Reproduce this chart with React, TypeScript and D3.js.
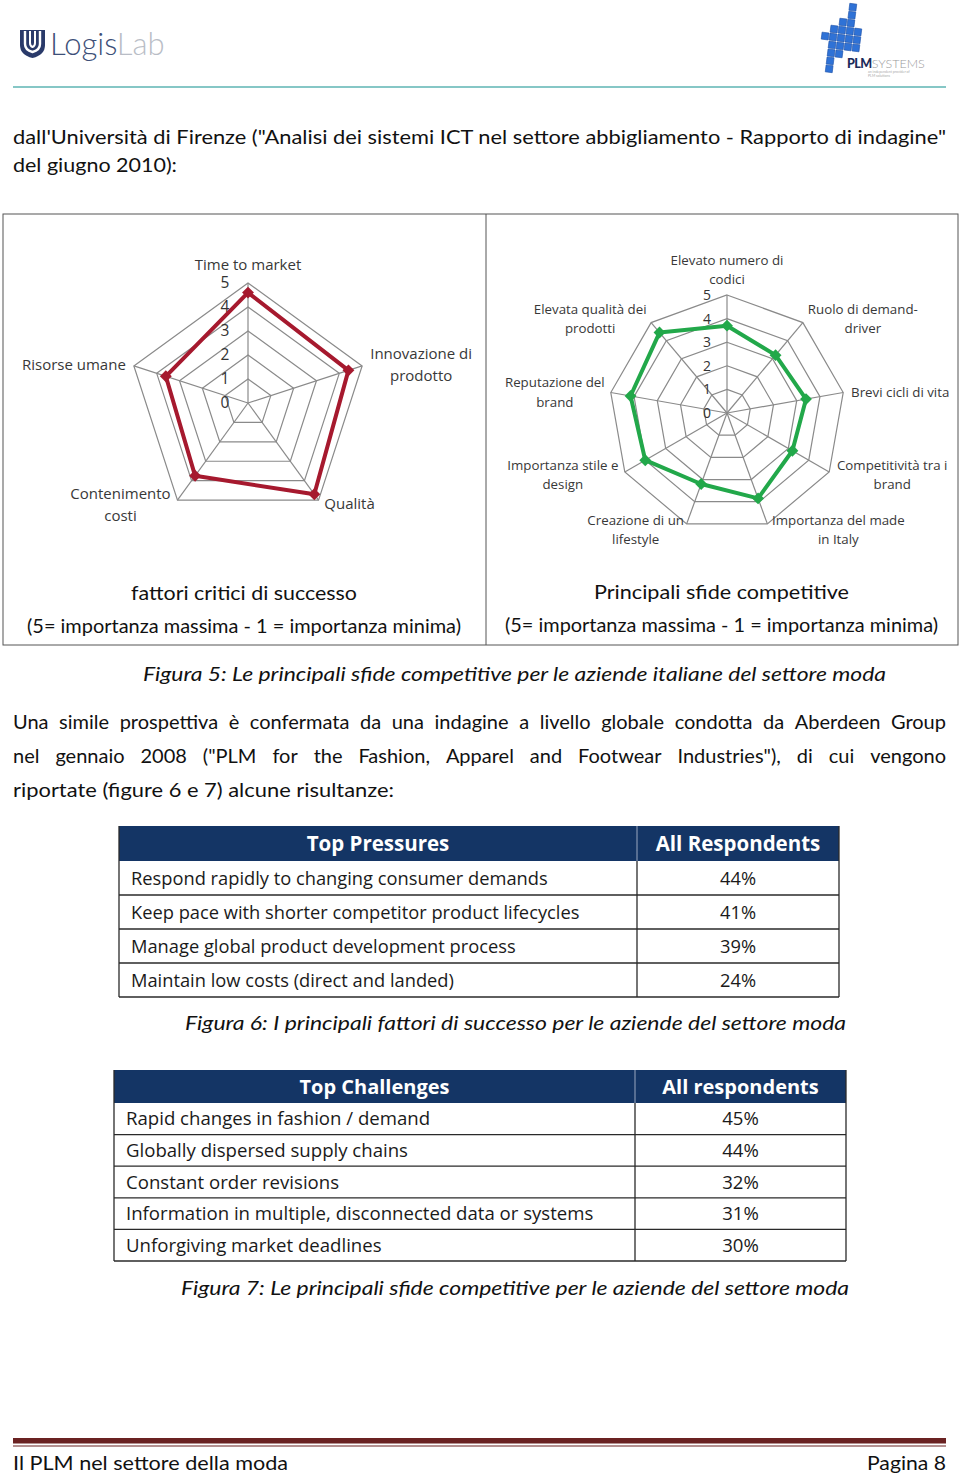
import React from 'react';
import * as d3 from 'd3';

// ---------- DATA ----------
const leftAxes = ['Time to market', 'Innovazione di\nprodotto', 'Qualità', 'Contenimento\ncosti', 'Risorse umane'];
const leftValues = [4.6, 4.4, 4.7, 3.75, 3.6];
const rightAxes = [
  'Elevato numero di\ncodici',
  'Ruolo di demand-\ndriver',
  'Brevi cicli di vita',
  'Competitività tra i\nbrand',
  'Importanza del made\nin Italy',
  'Creazione di un\nlifestyle',
  'Importanza stile e\ndesign',
  'Reputazione del\nbrand',
  'Elevata qualità dei\nprodotti',
];
const rightValues = [3.7, 3.2, 3.4, 3.2, 3.85, 3.2, 4.0, 4.15, 4.45];
const radarTicks = [0, 1, 2, 3, 4, 5];

const pressureItems = [
  'Respond rapidly to changing consumer demands',
  'Keep pace with shorter competitor product lifecycles',
  'Manage global product development process',
  'Maintain low costs (direct and landed)',
];
const pressureValues = [44, 41, 39, 24];
const challengeItems = [
  'Rapid changes in fashion / demand',
  'Globally dispersed supply chains',
  'Constant order revisions',
  'Information in multiple, disconnected data or systems',
  'Unforgiving market deadlines',
];
const challengeValues = [45, 44, 32, 31, 30];

// ---------- LAYOUT ----------
const W = 960;
const H = 1477;
const FONT = 'Lato, "Open Sans", sans-serif';
const LFONT = '"Open Sans", Lato, sans-serif';
const NAVY = '#143565';

const leftLabelOffsets: [number, number][] = [[0, -18], [59, -1], [31, 4], [-57, 5], [-60, -1]];
const rightLabelOffsets: [number, number][] = [[0, -25], [60, -4], [57, 0], [63, 3], [71, 6], [-51, 6], [-62, 3], [-56, 0], [-61, -4]];

let _ctx: CanvasRenderingContext2D | null = null;
function measure(t: string, font: string) {
  if (!_ctx) _ctx = document.createElement('canvas').getContext('2d');
  if (!_ctx) return t.length * 9;
  _ctx.font = font;
  return _ctx.measureText(t).width;
}

function Line({ x, y, w, text, size = 20, italic = false, anchor = 'start' }: any) {
  return (
    <text x={x} y={y} fontSize={size} fontStyle={italic ? 'italic' : 'normal'} fill="#111"
      textLength={w} lengthAdjust="spacingAndGlyphs" textAnchor={anchor} fontFamily={FONT}>{text}</text>
  );
}

function Justified({ x, y, w, text, size = 20 }: any) {
  const words = text.split(' ');
  const font = `${size}px Lato`;
  const widths = words.map((wd: string) => measure(wd, font));
  const sum = widths.reduce((a: number, b: number) => a + b, 0);
  let gap = (w - sum) / (words.length - 1);
  let scale = 1;
  if (gap < 3) { scale = (w - 3 * (words.length - 1)) / sum; gap = 3; }
  let cx = x;
  return (
    <g fontFamily={FONT} fontSize={size} fill="#111">
      {words.map((wd: string, i: number) => {
        const ww = widths[i] * scale;
        const el = <text key={i} x={cx} y={y} textLength={ww} lengthAdjust="spacingAndGlyphs">{wd}</text>;
        cx += ww + gap;
        return el;
      })}
    </g>
  );
}

function Radar({ cx, cy, R, axes, values, color, offsets, fs, lh, tickFs, tickDx }: any) {
  const n = axes.length;
  const r = d3.scaleLinear().domain([0, 5]).range([0, R]);
  const ang = (i: number) => (i * 2 * Math.PI) / n;
  const line = d3.lineRadial<number>().angle((_, i) => ang(i)).radius((d) => r(d)).curve(d3.curveLinearClosed);
  const pt = (i: number, v: number) => [r(v) * Math.sin(ang(i)), -r(v) * Math.cos(ang(i))];
  return (
    <g transform={`translate(${cx},${cy})`}>
      {radarTicks.slice(1).map((t) => (
        <path key={t} d={line(new Array(n).fill(t)) || ''} fill="none" stroke="#8a8a8a" strokeWidth={1.2} />
      ))}
      {axes.map((_: string, i: number) => {
        const [x, y] = pt(i, 5);
        return <line key={i} x1={0} y1={0} x2={x} y2={y} stroke="#8a8a8a" strokeWidth={1.2} />;
      })}
      {radarTicks.map((t) => (
        <text key={t} x={tickDx} y={-r(t)} dy="0.35em" textAnchor="middle" fontSize={tickFs} fill="#333" fontFamily={LFONT}>{t}</text>
      ))}
      <path d={line(values) || ''} fill="none" stroke={color} strokeWidth={4} strokeLinejoin="round" />
      {values.map((v: number, i: number) => {
        const [x, y] = pt(i, v);
        return <rect key={i} x={-4.2} y={-4.2} width={8.4} height={8.4} fill={color} transform={`translate(${x},${y}) rotate(45)`} />;
      })}
      {axes.map((a: string, i: number) => {
        const [x, y] = pt(i, 5);
        const lines = a.split('\n');
        const bx = x + offsets[i][0];
        const by = y + offsets[i][1];
        return (
          <text key={i} textAnchor="middle" fontSize={fs} fill="#383838" fontFamily={LFONT}>
            {lines.map((l, k) => (
              <tspan key={k} x={bx} y={by + (k - (lines.length - 1) / 2) * lh} dy="0.35em">{l}</tspan>
            ))}
          </text>
        );
      })}
    </g>
  );
}

function Table({ x, y, w, split, headH, rowH, head, items, values, fs, headFs }: any) {
  const rows = d3.range(items.length);
  const yRow = d3.scaleLinear().domain([0, items.length]).range([y + headH, y + headH + rowH * items.length]);
  const bottom = yRow(items.length);
  return (
    <g fontFamily={LFONT}>
      <rect x={x} y={y} width={w} height={headH} fill={NAVY} />
      <line x1={x + split} x2={x + split} y1={y} y2={y + headH} stroke="#9aa8c0" strokeWidth={1} />
      <text x={x + split / 2} y={y + headH / 2} dy="0.36em" textAnchor="middle" fill="#fff" fontWeight={700} fontSize={headFs}>{head[0]}</text>
      <text x={x + split + (w - split) / 2} y={y + headH / 2} dy="0.36em" textAnchor="middle" fill="#fff" fontWeight={700} fontSize={headFs}>{head[1]}</text>
      {rows.map((i) => (
        <g key={i}>
          <text x={x + 12} y={yRow(i) + rowH / 2} dy="0.36em" fontSize={fs} fill="#1a1a1a">{items[i]}</text>
          <text x={x + split + (w - split) / 2} y={yRow(i) + rowH / 2} dy="0.36em" textAnchor="middle" fontSize={fs} fill="#1a1a1a">{values[i]}%</text>
          <line x1={x} x2={x + w} y1={yRow(i + 1)} y2={yRow(i + 1)} stroke="#2a2a2a" strokeWidth={1.3} />
        </g>
      ))}
      <line x1={x} x2={x} y1={y} y2={bottom} stroke="#2a2a2a" strokeWidth={1.3} />
      <line x1={x + w} x2={x + w} y1={y} y2={bottom} stroke="#2a2a2a" strokeWidth={1.3} />
      <line x1={x + split} x2={x + split} y1={y + headH} y2={bottom} stroke="#2a2a2a" strokeWidth={1.3} />
    </g>
  );
}

const plmCells: [number, number][] = [
  [1, -4], [1, -3], [1, -2], [0, -2],
  [-1, -1], [0, -1], [1, -1], [2, -1],
  [-2, 0], [-1, 0], [0, 0], [1, 0], [2, 0],
  [-1, 1], [0, 1], [1, 1], [2, 1],
  [-1, 2], [0, 2], [-1, 3], [-1, 4],
];

export default function App() {
  return (
    <svg width={W} height={H} style={{ position: 'absolute', left: 0, top: 0, background: '#fff' }} fontFamily={FONT}>
      {/* Header logos */}
      <g>
        <path d="M20,30 L45,30 L45,45 Q45,55 32.5,58 Q20,55 20,45 Z" fill="#2a3a6a" />
        <path d="M25,31 L25,44 Q25,50 32.5,52 Q40,50 40,44 L40,31" fill="none" stroke="#fff" strokeWidth={2.4} />
        <path d="M30,31 L30,43 Q30,46 32.5,47 Q35,46 35,43 L35,31" fill="none" stroke="#fff" strokeWidth={2} />
        <text x={50} y={55} fontSize={31} fill="#3d4f78" fontFamily="Lato" fontWeight={300}>Logis<tspan fill="#b9bdc6">Lab</tspan></text>
      </g>
      <g transform="translate(841,38) rotate(7)">
        {plmCells.map(([c, r], i) => (
          <rect key={i} x={c * 8 - 3.5} y={r * 8 - 3.5} width={7} height={7} fill="#2f72d6" stroke="#1b4fa8" strokeWidth={0.6} />
        ))}
      </g>
      <text x={847} y={68} fontSize={12.5} fontWeight={900} fill="#1a2a5a" fontFamily="Lato" letterSpacing={-0.5}>PLM<tspan fontWeight={300} fill="#9a9a9a" letterSpacing={0}>SYSTEMS</tspan></text>
      <text x={868} y={73} fontSize={3.5} fill="#aaa">an independent provider of</text>
      <text x={868} y={77} fontSize={3.5} fill="#aaa">PLM solutions</text>
      <line x1={13} x2={946} y1={87} y2={87} stroke="#86c7c6" strokeWidth={2} />

      {/* Intro text */}
      <Line x={13} y={144} w={933} text={'dall\'Università di Firenze ("Analisi dei sistemi ICT nel settore abbigliamento - Rapporto di indagine"'} />
      <Line x={13} y={172} w={164} text="del giugno 2010):" />

      {/* Radar box */}
      <rect x={3} y={214} width={955} height={431} fill="none" stroke="#555" strokeWidth={1} />
      <line x1={486} x2={486} y1={214} y2={645} stroke="#555" strokeWidth={1} />
      <Radar cx={248} cy={403} R={120} axes={leftAxes} values={leftValues} color="#a6192e"
        offsets={leftLabelOffsets} fs={15} lh={22} tickFs={15.5} tickDx={-23} />
      <Radar cx={727} cy={413} R={118} axes={rightAxes} values={rightValues} color="#22a84a"
        offsets={rightLabelOffsets} fs={13.3} lh={19.5} tickFs={14} tickDx={-20} />
      <Line x={131} y={600} w={226} text="fattori critici di successo" />
      <Line x={27} y={633} w={434} size={19} text="(5= importanza massima - 1 = importanza minima)" />
      <Line x={594} y={599} w={255} text="Principali sfide competitive" />
      <Line x={505} y={632} w={433} size={19} text="(5= importanza massima - 1 = importanza minima)" />

      <Line x={143} y={681} w={743} italic text="Figura 5: Le principali sfide competitive per le aziende italiane del settore moda" />

      {/* Paragraph */}
      <Justified x={13} y={729} w={933} text="Una simile prospettiva è confermata da una indagine a livello globale condotta da Aberdeen Group" />
      <Justified x={13} y={763} w={933} text={'nel gennaio 2008 ("PLM for the Fashion, Apparel and Footwear Industries"), di cui vengono'} />
      <Line x={13} y={797} w={381} text="riportate (figure 6 e 7) alcune risultanze:" />

      {/* Tables */}
      <Table x={119} y={826} w={720} split={518} headH={35} rowH={34} head={['Top Pressures', 'All Respondents']}
        items={pressureItems} values={pressureValues} fs={18.3} headFs={20.5} />
      <Line x={185} y={1030} w={661} italic text="Figura 6: I principali fattori di successo per le aziende del settore moda" />

      <Table x={114} y={1070} w={732} split={521} headH={33} rowH={31.6} head={['Top Challenges', 'All respondents']}
        items={challengeItems} values={challengeValues} fs={18.6} headFs={20} />
      <Line x={181} y={1295} w={668} italic text="Figura 7: Le principali sfide competitive per le aziende del settore moda" />

      {/* Footer */}
      <rect x={13} y={1438} width={933} height={5.5} fill="#6a2222" />
      <line x1={13} x2={946} y1={1446} y2={1446} stroke="#6a2222" strokeWidth={1} />
      <Line x={13} y={1470} w={275} text="Il PLM nel settore della moda" />
      <Line x={867} y={1470} w={79} text="Pagina 8" />
    </svg>
  );
}
